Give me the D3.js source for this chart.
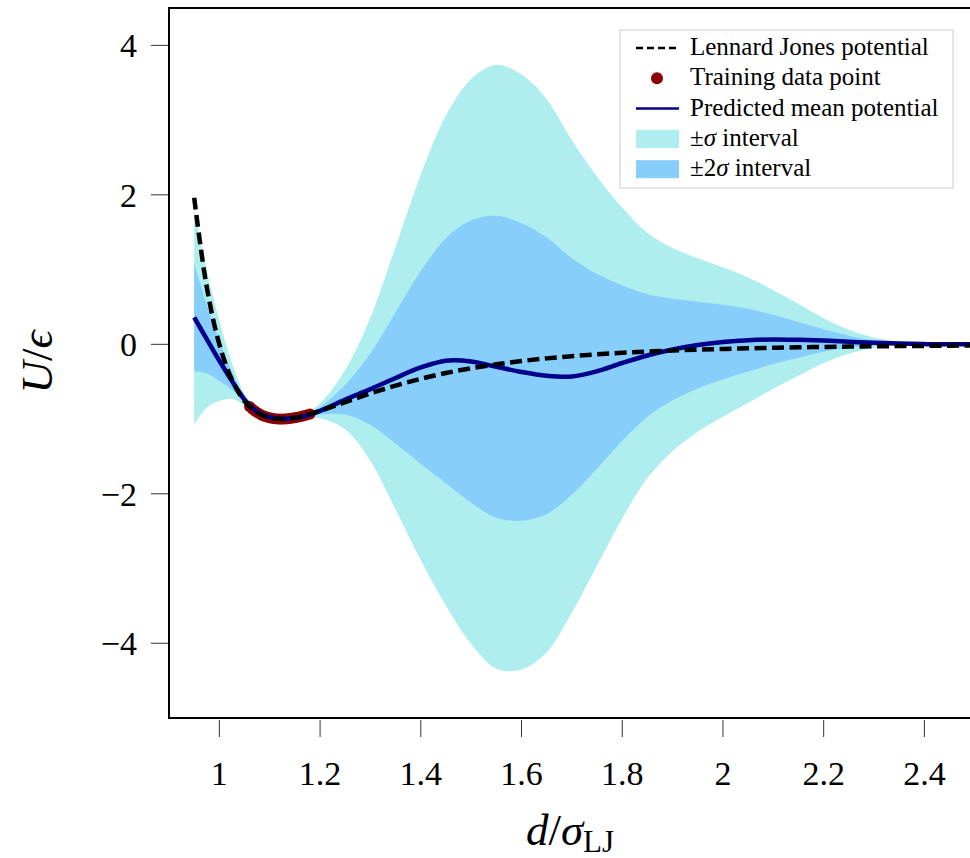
<!DOCTYPE html>
<html>
<head>
<meta charset="utf-8">
<script src="https://cdn.jsdelivr.net/npm/d3@7"></script>
<style>
  html, body { margin: 0; padding: 0; background: #fff; }
  svg { display: block; }
  text { font-family: "Liberation Serif", "DejaVu Serif", serif; fill: #000; }
</style>
</head>
<body>
<svg id="chart" width="970" height="858"></svg>
<script>
// Distance grid (in units of sigma_LJ)
const dGrid = [0.95, 0.975, 1.0, 1.025, 1.05, 1.075, 1.1, 1.125, 1.15, 1.175, 1.2, 1.25, 1.3, 1.35,
  1.4, 1.45, 1.5, 1.55, 1.6, 1.65, 1.7, 1.75, 1.8, 1.85, 1.9, 1.95, 2.0, 2.05, 2.1, 2.15, 2.2,
  2.25, 2.3, 2.35, 2.4, 2.45, 2.5];

// Reference Lennard-Jones potential U/eps on the grid
const ljValues = [1.961, 0.764, 0.0, -0.475, -0.758, -0.912, -0.983, -1.0, -0.982, -0.942, -0.891,
  -0.774, -0.657, -0.552, -0.461, -0.384, -0.320, -0.268, -0.224, -0.188, -0.159, -0.134, -0.114,
  -0.097, -0.083, -0.071, -0.062, -0.054, -0.046, -0.040, -0.035, -0.030, -0.027, -0.023, -0.021,
  -0.018, -0.016];

// Predicted mean potential of the model
const meanValues = [0.36, 0.07, -0.22, -0.49, -0.74, -0.90, -0.975, -0.995, -0.985, -0.95, -0.89,
  -0.74, -0.60, -0.45, -0.31, -0.22, -0.23, -0.30, -0.37, -0.42, -0.43, -0.36, -0.25, -0.15,
  -0.07, -0.01, 0.03, 0.055, 0.065, 0.06, 0.05, 0.035, 0.02, 0.01, 0.003, 0.0, 0.0];

// Predictive standard deviation
const sigmaValues = [0.72, 0.46, 0.27, 0.12, 0.04, 0.015, 0.01, 0.01, 0.012, 0.02, 0.05,
  0.2, 0.48, 0.88, 1.29, 1.64, 1.89, 2.02, 1.99, 1.85, 1.58, 1.3, 1.04, 0.82, 0.68, 0.58, 0.5,
  0.42, 0.33, 0.24, 0.15, 0.08, 0.035, 0.012, 0.004, 0.002, 0.001];

// Training samples taken from the potential well
const trainD = [1.06, 1.065, 1.07, 1.075, 1.08, 1.085, 1.09, 1.095, 1.10, 1.105, 1.11, 1.115, 1.12,
  1.125, 1.13, 1.135, 1.14, 1.145, 1.15, 1.155, 1.16, 1.165, 1.17, 1.175, 1.18];
const trainU = [-0.832, -0.863, -0.889, -0.912, -0.932, -0.949, -0.963, -0.974, -0.983, -0.990,
  -0.995, -0.998, -1.0, -1.0, -0.999, -0.996, -0.992, -0.987, -0.982, -0.975, -0.968, -0.960,
  -0.952, -0.942, -0.933];

const xTicks = [1, 1.2, 1.4, 1.6, 1.8, 2, 2.2, 2.4];
const yTicks = [-4, -2, 0, 2, 4];

const legendLabels = ["Lennard Jones potential", "Training data point", "Predicted mean potential",
  "\u00B1\u03C3 interval", "\u00B12\u03C3 interval"];

const colors = {
  lj: "#000000",
  train: "#8b0000",
  mean: "#00008b",
  outer: "#afeeee",
  inner: "#87cefa"
};

const svg = d3.select("#chart");
const plotLeft = 169, plotTop = 8, plotBottom = 718;
const x = d3.scaleLinear().domain([0.9, 2.5]).range([plotLeft, plotLeft + 1.6 * 503.6]);
const y = d3.scaleLinear().domain([-5, 4.5]).range([plotBottom, plotTop]);
const smooth = d3.curveCatmullRom.alpha(0.5);

svg.append("defs").append("clipPath").attr("id", "plotclip")
  .append("rect").attr("x", plotLeft).attr("y", plotTop)
  .attr("width", 970 - plotLeft).attr("height", plotBottom - plotTop);

const plot = svg.append("g").attr("clip-path", "url(#plotclip)");

const rows = dGrid.map((d, i) => ({ d, lj: ljValues[i], m: meanValues[i], s: sigmaValues[i] }));

// Outer band: mean +/- 2 sd ; inner band: mean +/- 1 sd
const band = k => d3.area()
  .x(r => x(r.d))
  .y0(r => y(r.m - k * r.s))
  .y1(r => y(r.m + k * r.s))
  .curve(smooth);

plot.append("path").datum(rows).attr("d", band(2)).attr("fill", colors.outer);
plot.append("path").datum(rows).attr("d", band(1)).attr("fill", colors.inner);

plot.selectAll("circle.train").data(trainD).enter().append("circle")
  .attr("class", "train")
  .attr("cx", d => x(d))
  .attr("cy", (d, i) => y(trainU[i]))
  .attr("r", 5.5)
  .attr("fill", colors.train);

plot.append("path").datum(rows)
  .attr("d", d3.line().x(r => x(r.d)).y(r => y(r.m)).curve(smooth))
  .attr("fill", "none").attr("stroke", colors.mean).attr("stroke-width", 4.5);

plot.append("path").datum(rows)
  .attr("d", d3.line().x(r => x(r.d)).y(r => y(r.lj)).curve(smooth))
  .attr("fill", "none").attr("stroke", colors.lj).attr("stroke-width", 4.5)
  .attr("stroke-dasharray", "12,5.5");

// Frame (left, top, bottom spines)
svg.append("path")
  .attr("d", `M970,${plotTop} H${plotLeft} V${plotBottom} H970`)
  .attr("fill", "none").attr("stroke", "#000").attr("stroke-width", 2);

// X ticks and labels
const xt = svg.append("g");
xTicks.forEach(t => {
  xt.append("line").attr("x1", x(t)).attr("x2", x(t)).attr("y1", 720).attr("y2", 737)
    .attr("stroke", "#333").attr("stroke-width", 1);
  xt.append("text").attr("x", x(t)).attr("y", 785).attr("text-anchor", "middle")
    .attr("font-size", 34).text(String(t));
});

// Y ticks and labels
const yt = svg.append("g");
yTicks.forEach(t => {
  yt.append("line").attr("x1", 151).attr("x2", 168).attr("y1", y(t)).attr("y2", y(t))
    .attr("stroke", "#333").attr("stroke-width", 1);
  yt.append("text").attr("x", 137).attr("y", y(t) + 12).attr("text-anchor", "end")
    .attr("font-size", 34).text(t < 0 ? "\u2212" + Math.abs(t) : String(t));
});

// Axis titles
const xl = svg.append("text").attr("x", 570).attr("y", 845).attr("text-anchor", "middle")
  .attr("font-size", 45);
xl.append("tspan").attr("font-style", "italic").text("d");
xl.append("tspan").text("/");
xl.append("tspan").attr("font-style", "italic").text("\u03C3");
xl.append("tspan").attr("font-size", 31).attr("dy", 7).text("LJ");

const yl = svg.append("text").attr("transform", "translate(52,362) rotate(-90)")
  .attr("text-anchor", "middle").attr("font-size", 45);
yl.append("tspan").attr("font-style", "italic").text("U");
yl.append("tspan").text("/");
yl.append("tspan").attr("font-style", "italic").text("\u03F5");

// Legend
const lg = svg.append("g");
lg.append("rect").attr("x", 620).attr("y", 30).attr("width", 333).attr("height", 158)
  .attr("fill", "#fff").attr("fill-opacity", 0.85).attr("stroke", "#ccc").attr("stroke-width", 1);
const rowY = i => 48 + i * 30.3;
lg.append("line").attr("x1", 636).attr("x2", 679).attr("y1", rowY(0)).attr("y2", rowY(0))
  .attr("stroke", colors.lj).attr("stroke-width", 2.5).attr("stroke-dasharray", "7,4");
lg.append("circle").attr("cx", 657).attr("cy", rowY(1)).attr("r", 6).attr("fill", colors.train);
lg.append("line").attr("x1", 636).attr("x2", 679).attr("y1", rowY(2)).attr("y2", rowY(2))
  .attr("stroke", colors.mean).attr("stroke-width", 2.5);
lg.append("rect").attr("x", 636).attr("y", rowY(3) - 9).attr("width", 43).attr("height", 18)
  .attr("fill", colors.outer);
lg.append("rect").attr("x", 636).attr("y", rowY(4) - 9).attr("width", 43).attr("height", 18)
  .attr("fill", colors.inner);
legendLabels.forEach((s, i) => {
  const t = lg.append("text").attr("x", 690).attr("y", rowY(i) + 7).attr("font-size", 25);
  if (i >= 3) {
    const parts = i === 3 ? ["\u00B1", "\u03C3", " interval"] : ["\u00B12", "\u03C3", " interval"];
    t.append("tspan").text(parts[0]);
    t.append("tspan").attr("font-style", "italic").text(parts[1]);
    t.append("tspan").text(parts[2]);
  } else {
    t.text(s);
  }
});
</script>
</body>
</html>
